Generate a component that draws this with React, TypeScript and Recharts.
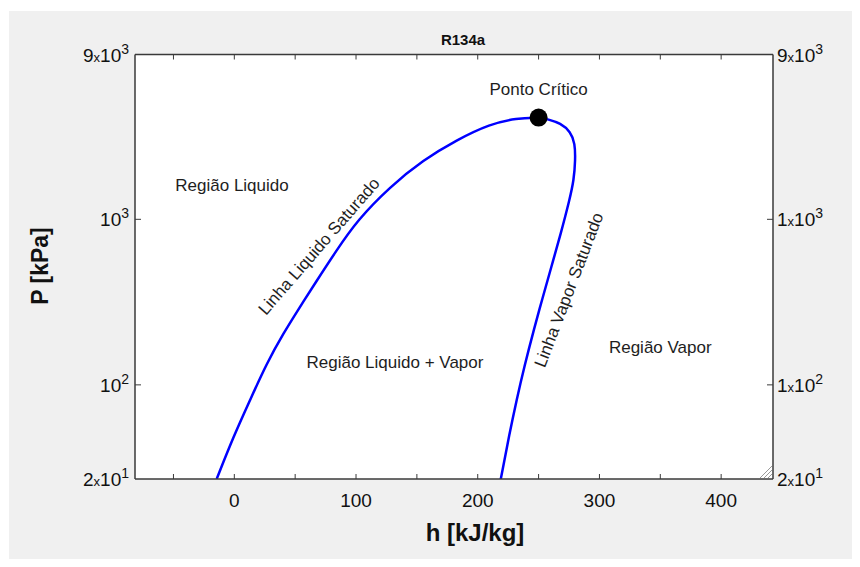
import { ComposedChart, Line, XAxis, YAxis, CartesianGrid, ReferenceDot } from "recharts";

const FONT = '"Liberation Sans", Arial, Helvetica, sans-serif';

// saturated liquid line, h [kJ/kg] vs P [kPa]
const liquidLine = [
  { h: -14.5, P: 27 },
  { h: -0.8, P: 48.5 },
  { h: 12.9, P: 80.8 },
  { h: 26.6, P: 134.7 },
  { h: 40.3, P: 204.6 },
  { h: 54, P: 296 },
  { h: 66.3, P: 410 },
  { h: 84.1, P: 652 },
  { h: 101.2, P: 990 },
  { h: 127.9, P: 1574 },
  { h: 155.3, P: 2283 },
  { h: 182.7, P: 3016 },
  { h: 210.1, P: 3769 },
  { h: 232, P: 4080 },
  { h: 250, P: 4120 },
];

// saturated vapour line, from the critical point down
const vaporLine = [
  { h: 250, P: 4120 },
  { h: 257.8, P: 4023 },
  { h: 268, P: 3806 },
  { h: 276.3, P: 3385 },
  { h: 279.9, P: 2880 },
  { h: 280.2, P: 2283 },
  { h: 279, P: 1728 },
  { h: 275.4, P: 1308 },
  { h: 268.3, P: 823 },
  { h: 260.5, P: 517 },
  { h: 252.8, P: 325 },
  { h: 246.7, P: 224 },
  { h: 238.2, P: 128.5 },
  { h: 231.9, P: 80.8 },
  { h: 226.1, P: 50.8 },
  { h: 218.9, P: 26.9 },
];

const criticalPoint = { h: 250, P: 4120 };

const xDomain = [-81.6, 442.6];
const yDomain = [27, 9900];
const xTicks = [-50, 0, 50, 100, 150, 200, 250, 300, 350, 400];
const xLabelled = [0, 100, 200, 300, 400];
const yTicks = [27, 100, 1000, 9900];
const yLeftLabels = [
  { m: "2", e: "1" },
  { m: "", e: "2" },
  { m: "", e: "3" },
  { m: "9", e: "3" },
];
const yRightLabels = [
  { m: "2", e: "1" },
  { m: "1", e: "2" },
  { m: "1", e: "3" },
  { m: "9", e: "3" },
];

const regionLabels = [
  { text: "Região Liquido", h: -1.9, P: 1611, angle: 0 },
  { text: "Região Liquido + Vapor", h: 132, P: 137, angle: 0 },
  { text: "Região Vapor", h: 350, P: 167, angle: 0 },
  { text: "Linha Liquido Saturado", h: 69.7, P: 687, angle: -49 },
  { text: "Linha Vapor Saturado", h: 275, P: 374, angle: -69 },
];

const AXIS = "#3a3a3a";

function PowLabel({ x, y, m, e, anchor }: { x: number; y: number; m: string; e: string; anchor: "start" | "end" }) {
  return (
    <text x={x} y={y + 7} textAnchor={anchor} fontFamily={FONT} fontSize={19} fill="#111">
      {m && <tspan>{m}</tspan>}
      {m && <tspan fontSize={13}>x</tspan>}
      <tspan>10</tspan>
      <tspan fontSize={14} dy={-8}>{e}</tspan>
    </text>
  );
}

const BottomTick = (props: any) => {
  const { x, y, payload } = props;
  const v = payload.value;
  return (
    <g>
      <line x1={x} x2={x} y1={y} y2={y - 5} stroke={AXIS} strokeWidth={1} />
      {xLabelled.includes(v) && (
        <text x={x} y={y + 28} textAnchor="middle" fontFamily={FONT} fontSize={19} fill="#111">
          {v}
        </text>
      )}
    </g>
  );
};

const TopTick = (props: any) => {
  const { x, y } = props;
  return <line x1={x} x2={x} y1={y} y2={y + 5} stroke={AXIS} strokeWidth={1} />;
};

const LeftTick = (props: any) => {
  const { x, y, payload } = props;
  const i = yTicks.indexOf(payload.value);
  const lab = yLeftLabels[i];
  if (!lab) return null;
  const inner = i === 1 || i === 2;
  return (
    <g>
      {inner && <line x1={x} x2={x + 6} y1={y} y2={y} stroke={AXIS} strokeWidth={1} />}
      <PowLabel x={x - 6} y={y} m={lab.m} e={lab.e} anchor="end" />
    </g>
  );
};

const RightTick = (props: any) => {
  const { x, y, payload } = props;
  const i = yTicks.indexOf(payload.value);
  const lab = yRightLabels[i];
  if (!lab) return null;
  const inner = i === 1 || i === 2;
  return (
    <g>
      {inner && <line x1={x} x2={x - 6} y1={y} y2={y} stroke={AXIS} strokeWidth={1} />}
      <PowLabel x={x + 4} y={y} m={lab.m} e={lab.e} anchor="start" />
    </g>
  );
};

function textShape(text: string, angle: number) {
  return (p: any) => (
    <text
      x={p.cx}
      y={p.cy}
      transform={angle ? `rotate(${angle} ${p.cx} ${p.cy})` : undefined}
      textAnchor="middle"
      dominantBaseline="central"
      fontFamily={FONT}
      fontSize={17}
      fill="#1e1e1e"
    >
      {text}
    </text>
  );
}

export default function App() {
  return (
    <div style={{ position: "relative", width: 860, height: 567, margin: -8, background: "#fff", overflow: "hidden" }}>
      <div style={{ position: "absolute", left: 9, top: 11, right: 0, bottom: 0, background: "#f0f0f0" }} />
      <ComposedChart
        width={860}
        height={567}
        margin={{ top: 53.5, right: 0, bottom: 0, left: 0 }}
        style={{ position: "absolute", left: 0, top: 0 }}
      >
        <CartesianGrid xAxisId="bottom" yAxisId="left" horizontal={false} vertical={false} fill="#ffffff" fillOpacity={1} />
        <XAxis
          xAxisId="bottom"
          dataKey="h"
          type="number"
          domain={xDomain}
          ticks={xTicks}
          interval={0}
          allowDataOverflow
          height={88}
          tickSize={0}
          tickMargin={0}
          tickLine={false}
          axisLine={{ stroke: AXIS, strokeWidth: 1.5 }}
          tick={BottomTick}
        />
        <XAxis
          xAxisId="top"
          orientation="top"
          dataKey="h"
          type="number"
          domain={xDomain}
          ticks={xTicks}
          interval={0}
          allowDataOverflow
          height={1}
          tickSize={0}
          tickMargin={0}
          tickLine={false}
          axisLine={{ stroke: AXIS, strokeWidth: 1.5 }}
          tick={TopTick}
        />
        <YAxis
          yAxisId="left"
          dataKey="P"
          type="number"
          scale="log"
          domain={yDomain}
          ticks={yTicks}
          interval={0}
          allowDataOverflow
          width={135}
          tickSize={0}
          tickMargin={0}
          tickLine={false}
          axisLine={{ stroke: AXIS, strokeWidth: 1.5 }}
          tick={LeftTick}
        />
        <YAxis
          yAxisId="right"
          orientation="right"
          dataKey="P"
          type="number"
          scale="log"
          domain={yDomain}
          ticks={yTicks}
          interval={0}
          allowDataOverflow
          width={87}
          tickSize={0}
          tickMargin={0}
          tickLine={false}
          axisLine={{ stroke: AXIS, strokeWidth: 1.5 }}
          tick={RightTick}
        />
        <Line
          xAxisId="bottom"
          yAxisId="left"
          data={liquidLine}
          dataKey="P"
          type="basis"
          stroke="#0000ff"
          strokeWidth={2.5}
          dot={false}
          activeDot={false}
          isAnimationActive={false}
        />
        <Line
          xAxisId="bottom"
          yAxisId="left"
          data={vaporLine}
          dataKey="P"
          type="basis"
          stroke="#0000ff"
          strokeWidth={2.5}
          dot={false}
          activeDot={false}
          isAnimationActive={false}
        />
        {regionLabels.map((r) => (
          <ReferenceDot
            key={r.text}
            xAxisId="bottom"
            yAxisId="left"
            x={r.h}
            y={r.P}
            r={1}
            shape={textShape(r.text, r.angle)}
          />
        ))}
        <ReferenceDot
          xAxisId="bottom"
          yAxisId="left"
          x={criticalPoint.h}
          y={criticalPoint.P}
          r={9}
          fill="#000"
          stroke="none"
          label={{ value: "Ponto Crítico", position: "top", offset: 14, fontFamily: FONT, fontSize: 17, fill: "#1e1e1e" }}
        />
      </ComposedChart>
      <svg width={20} height={20} style={{ position: "absolute", left: 754, top: 460 }}>
        <line x1={6} y1={18} x2={18} y2={6} stroke="#9a9a9a" strokeWidth={1} />
        <line x1={10} y1={18} x2={18} y2={10} stroke="#9a9a9a" strokeWidth={1} />
        <line x1={14} y1={18} x2={18} y2={14} stroke="#9a9a9a" strokeWidth={1} />
      </svg>
      <div
        style={{
          position: "absolute",
          left: 363,
          top: 31,
          width: 200,
          textAlign: "center",
          fontFamily: FONT,
          fontWeight: "bold",
          fontSize: 15,
          lineHeight: "18px",
          color: "#111",
        }}
      >
        R134a
      </div>
      <div
        style={{
          position: "absolute",
          left: 375,
          top: 519,
          width: 200,
          textAlign: "center",
          fontFamily: FONT,
          fontWeight: "bold",
          fontSize: 24,
          lineHeight: "28px",
          color: "#111",
        }}
      >
        h [kJ/kg]
      </div>
      <div
        style={{
          position: "absolute",
          left: 40 - 100,
          top: 266 - 14,
          width: 200,
          textAlign: "center",
          fontFamily: FONT,
          fontWeight: "bold",
          fontSize: 23,
          lineHeight: "28px",
          color: "#111",
          transform: "rotate(-90deg)",
        }}
      >
        P [kPa]
      </div>
    </div>
  );
}
